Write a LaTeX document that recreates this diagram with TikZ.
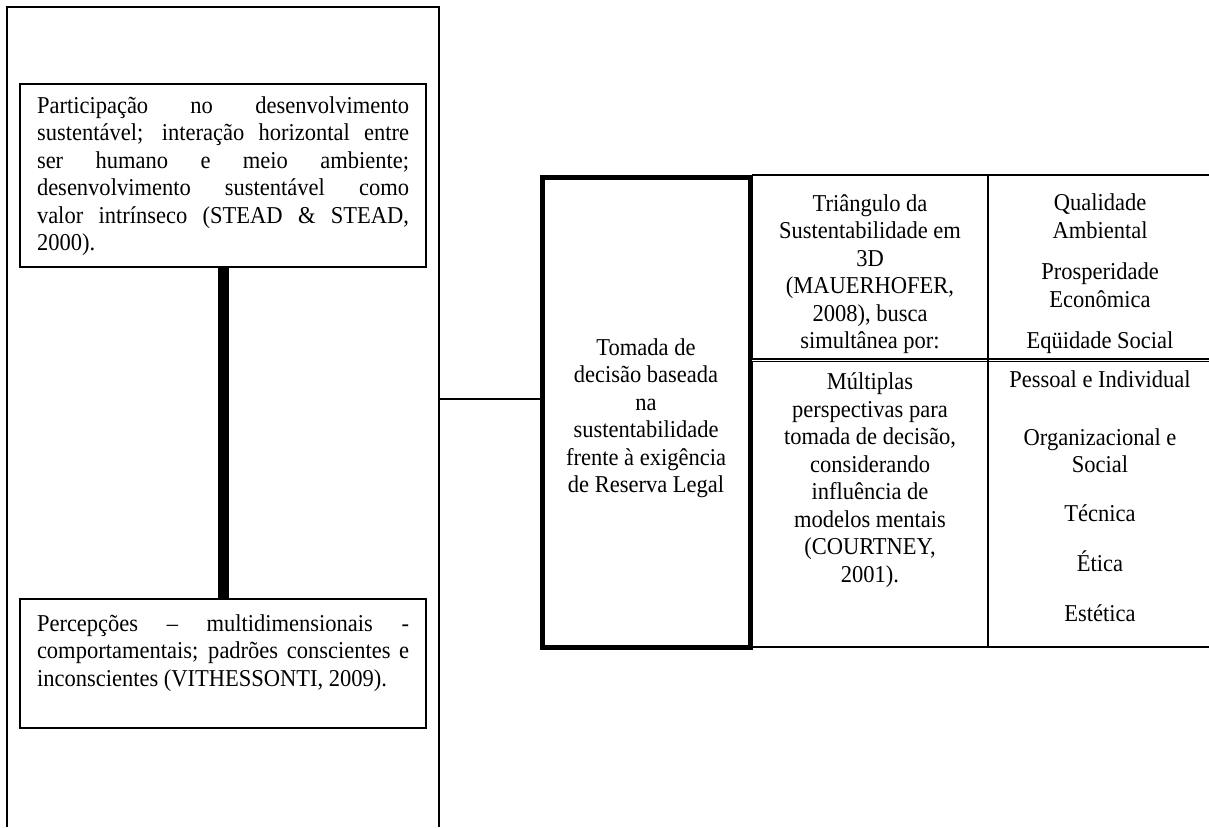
\documentclass[tikz,border=0pt]{standalone}
\usepackage{fontspec}
\setmainfont[FakeStretch=0.93]{Liberation Serif}
\usetikzlibrary{positioning}
\tolerance=9999
\hbadness=10000

\begin{document}
\begin{tikzpicture}[x=0.5pt, y=-0.5pt,
        bodyfont/.style={font=\fontsize{12.1}{13.75}\selectfont},
        boxline/.style={draw, line width=0.9pt, minimum width=203pt, inner sep=0pt},
        lefttext/.style={text width=186pt, align=justify, inner sep=0pt, anchor=north, bodyfont},
        celltext/.style={align=center, inner sep=0pt, bodyfont},
        tableline/.style={line width=0.9pt}]
    \useasboundingbox (0,0) rectangle (1209,827);
    % open frame round the left column
    \draw[line width=0.9pt] (7,827) -- (7,7) -- (439,7) -- (439,827);
    \coordinate (frameR) at (439,399);

    \node[boxline, minimum height=91.5pt] (particip) at (223,175.5) {};
    \node[lefttext, yshift=-6.45pt] (particip text) at (particip.north) {Participação no desenvolvimento\linebreak sustentável; interação horizontal entre\linebreak ser humano e meio ambiente;\linebreak desenvolvimento sustentável como\linebreak valor intrínseco (STEAD \& STEAD,\linebreak 2000).};
    \node[boxline, minimum height=64.5pt] (percep) at (223,663.5) {};
    \node[lefttext, yshift=-7.95pt] (percep text) at (percep.north) {Percepções – multidimensionais -\linebreak comportamentais; padrões conscientes e\linebreak inconscientes (VITHESSONTI, 2009).};
    \draw[line width=5.5pt] (particip.south) -- (percep.north);

    \node[draw, line width=2.5pt, minimum width=104pt, minimum height=235pt] (decisao) at (646,412) {};
    \node[celltext] (decisao text) at (646,418) {Tomada de\\decisão baseada\\na\\sustentabilidade\\frente à exigência\\de Reserva Legal};
    \draw[line width=0.7pt] (frameR) -- (frameR -| decisao.west);

    % table to the right
    \draw[tableline] (752,175) -- (1209,175);
    \draw[line width=0.6pt, double, double distance=0.5pt] (752,360) -- (1209,360);
    \draw[tableline] (752,647) -- (1209,647);
    \draw[tableline] (988,175) -- (988,647);

    \node[celltext] (triangulo) at (870,274) {Triângulo da\\Sustentabilidade em\\3D\\(MAUERHOFER,\\2008), busca\\simultânea por:};
    \node[celltext] (qualidade) at (1100,216.3) {Qualidade\\Ambiental};
    \node[celltext] (prosperidade) at (1100,285.3) {Prosperidade\\Econômica};
    \node[celltext, anchor=base] (equidade) at (1100,348) {Eqüidade Social};

    \node[celltext] (perspectivas) at (870,480.3) {Múltiplas\\perspectivas para\\tomada de decisão,\\considerando\\influência de\\modelos mentais\\(COURTNEY,\\2001).};
    \node[celltext, anchor=base] (pessoal) at (1100,387.5) {Pessoal e Individual};
    \node[celltext] (organizacional) at (1100,450.5) {Organizacional e\\Social};
    \node[celltext, anchor=base] (tecnica) at (1100,521) {Técnica};
    \node[celltext, anchor=base] (etica) at (1100,571) {Ética};
    \node[celltext, anchor=base] (estetica) at (1100,621) {Estética};
\end{tikzpicture}
\end{document}
